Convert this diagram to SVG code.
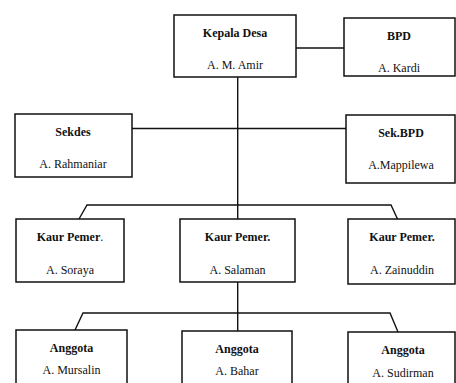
<svg xmlns="http://www.w3.org/2000/svg" width="456" height="383" viewBox="0 0 456 383">
  <style>
    .box { fill: #ffffff; stroke: #111111; stroke-width: 1.5; }
    .line { fill: none; stroke: #111111; stroke-width: 1.4; }
    text { font-family: "Liberation Serif", "Times New Roman", serif; font-size: 12px; fill: #111111; text-anchor: middle; }
    .title { font-weight: bold; }
    .reg { font-weight: normal; }
  </style>
  <rect x="0" y="0" width="456" height="383" fill="#ffffff"/>

  <!-- connectors -->
  <g id="connectors">
    <line class="line" x1="296" y1="48" x2="344" y2="48"/>
    <line class="line" x1="237.7" y1="77" x2="237.7" y2="219"/>
    <line class="line" x1="132" y1="128.5" x2="346" y2="128.5"/>
    <polyline class="line" points="79,219 87,205 391,205 397.5,219"/>
    <line class="line" x1="237.7" y1="282" x2="237.7" y2="331"/>
    <polyline class="line" points="75,330 83,313 390,313 398,332"/>
  </g>

  <!-- top level -->
  <g id="kepala-desa">
    <rect class="box" x="174" y="15" width="122" height="62"/>
    <text class="title" x="235" y="37">Kepala Desa</text>
    <text x="235" y="69">A. M. Amir</text>
  </g>
  <g id="bpd">
    <rect class="box" x="344" y="18" width="111" height="58"/>
    <text class="title" x="399" y="40">BPD</text>
    <text x="399" y="72">A. Kardi</text>
  </g>

  <!-- secretaries -->
  <g id="sekdes">
    <rect class="box" x="15" y="114" width="117" height="63"/>
    <text class="title" x="73" y="136">Sekdes</text>
    <text x="73" y="168">A. Rahmaniar</text>
  </g>
  <g id="sek-bpd">
    <rect class="box" x="346" y="115" width="109" height="68"/>
    <text class="title" x="401" y="137">Sek.BPD</text>
    <text x="401" y="169">A.Mappilewa</text>
  </g>

  <!-- kaur row -->
  <g id="kaur-soraya">
    <rect class="box" x="16" y="219" width="108" height="63"/>
    <text class="title" x="70" y="241">Kaur Pemer<tspan class="reg">.</tspan></text>
    <text x="70" y="274">A. Soraya</text>
  </g>
  <g id="kaur-salaman">
    <rect class="box" x="180" y="219" width="115" height="63"/>
    <text class="title" x="237.5" y="241">Kaur Pemer.</text>
    <text x="237.5" y="274">A. Salaman</text>
  </g>
  <g id="kaur-zainuddin">
    <rect class="box" x="348" y="219" width="107" height="65"/>
    <text class="title" x="402" y="241">Kaur Pemer.</text>
    <text x="402" y="274">A. Zainuddin</text>
  </g>

  <!-- members row -->
  <g id="anggota-mursalin">
    <rect class="box" x="16" y="330" width="111" height="70"/>
    <text class="title" x="71.5" y="352">Anggota</text>
    <text x="71.5" y="374">A. Mursalin</text>
  </g>
  <g id="anggota-bahar">
    <rect class="box" x="182" y="331" width="110" height="70"/>
    <text class="title" x="237" y="352.5">Anggota</text>
    <text x="237" y="375">A. Bahar</text>
  </g>
  <g id="anggota-sudirman">
    <rect class="box" x="348" y="332" width="107" height="70"/>
    <text class="title" x="403" y="353.5">Anggota</text>
    <text x="403" y="377">A. Sudirman</text>
  </g>
</svg>
